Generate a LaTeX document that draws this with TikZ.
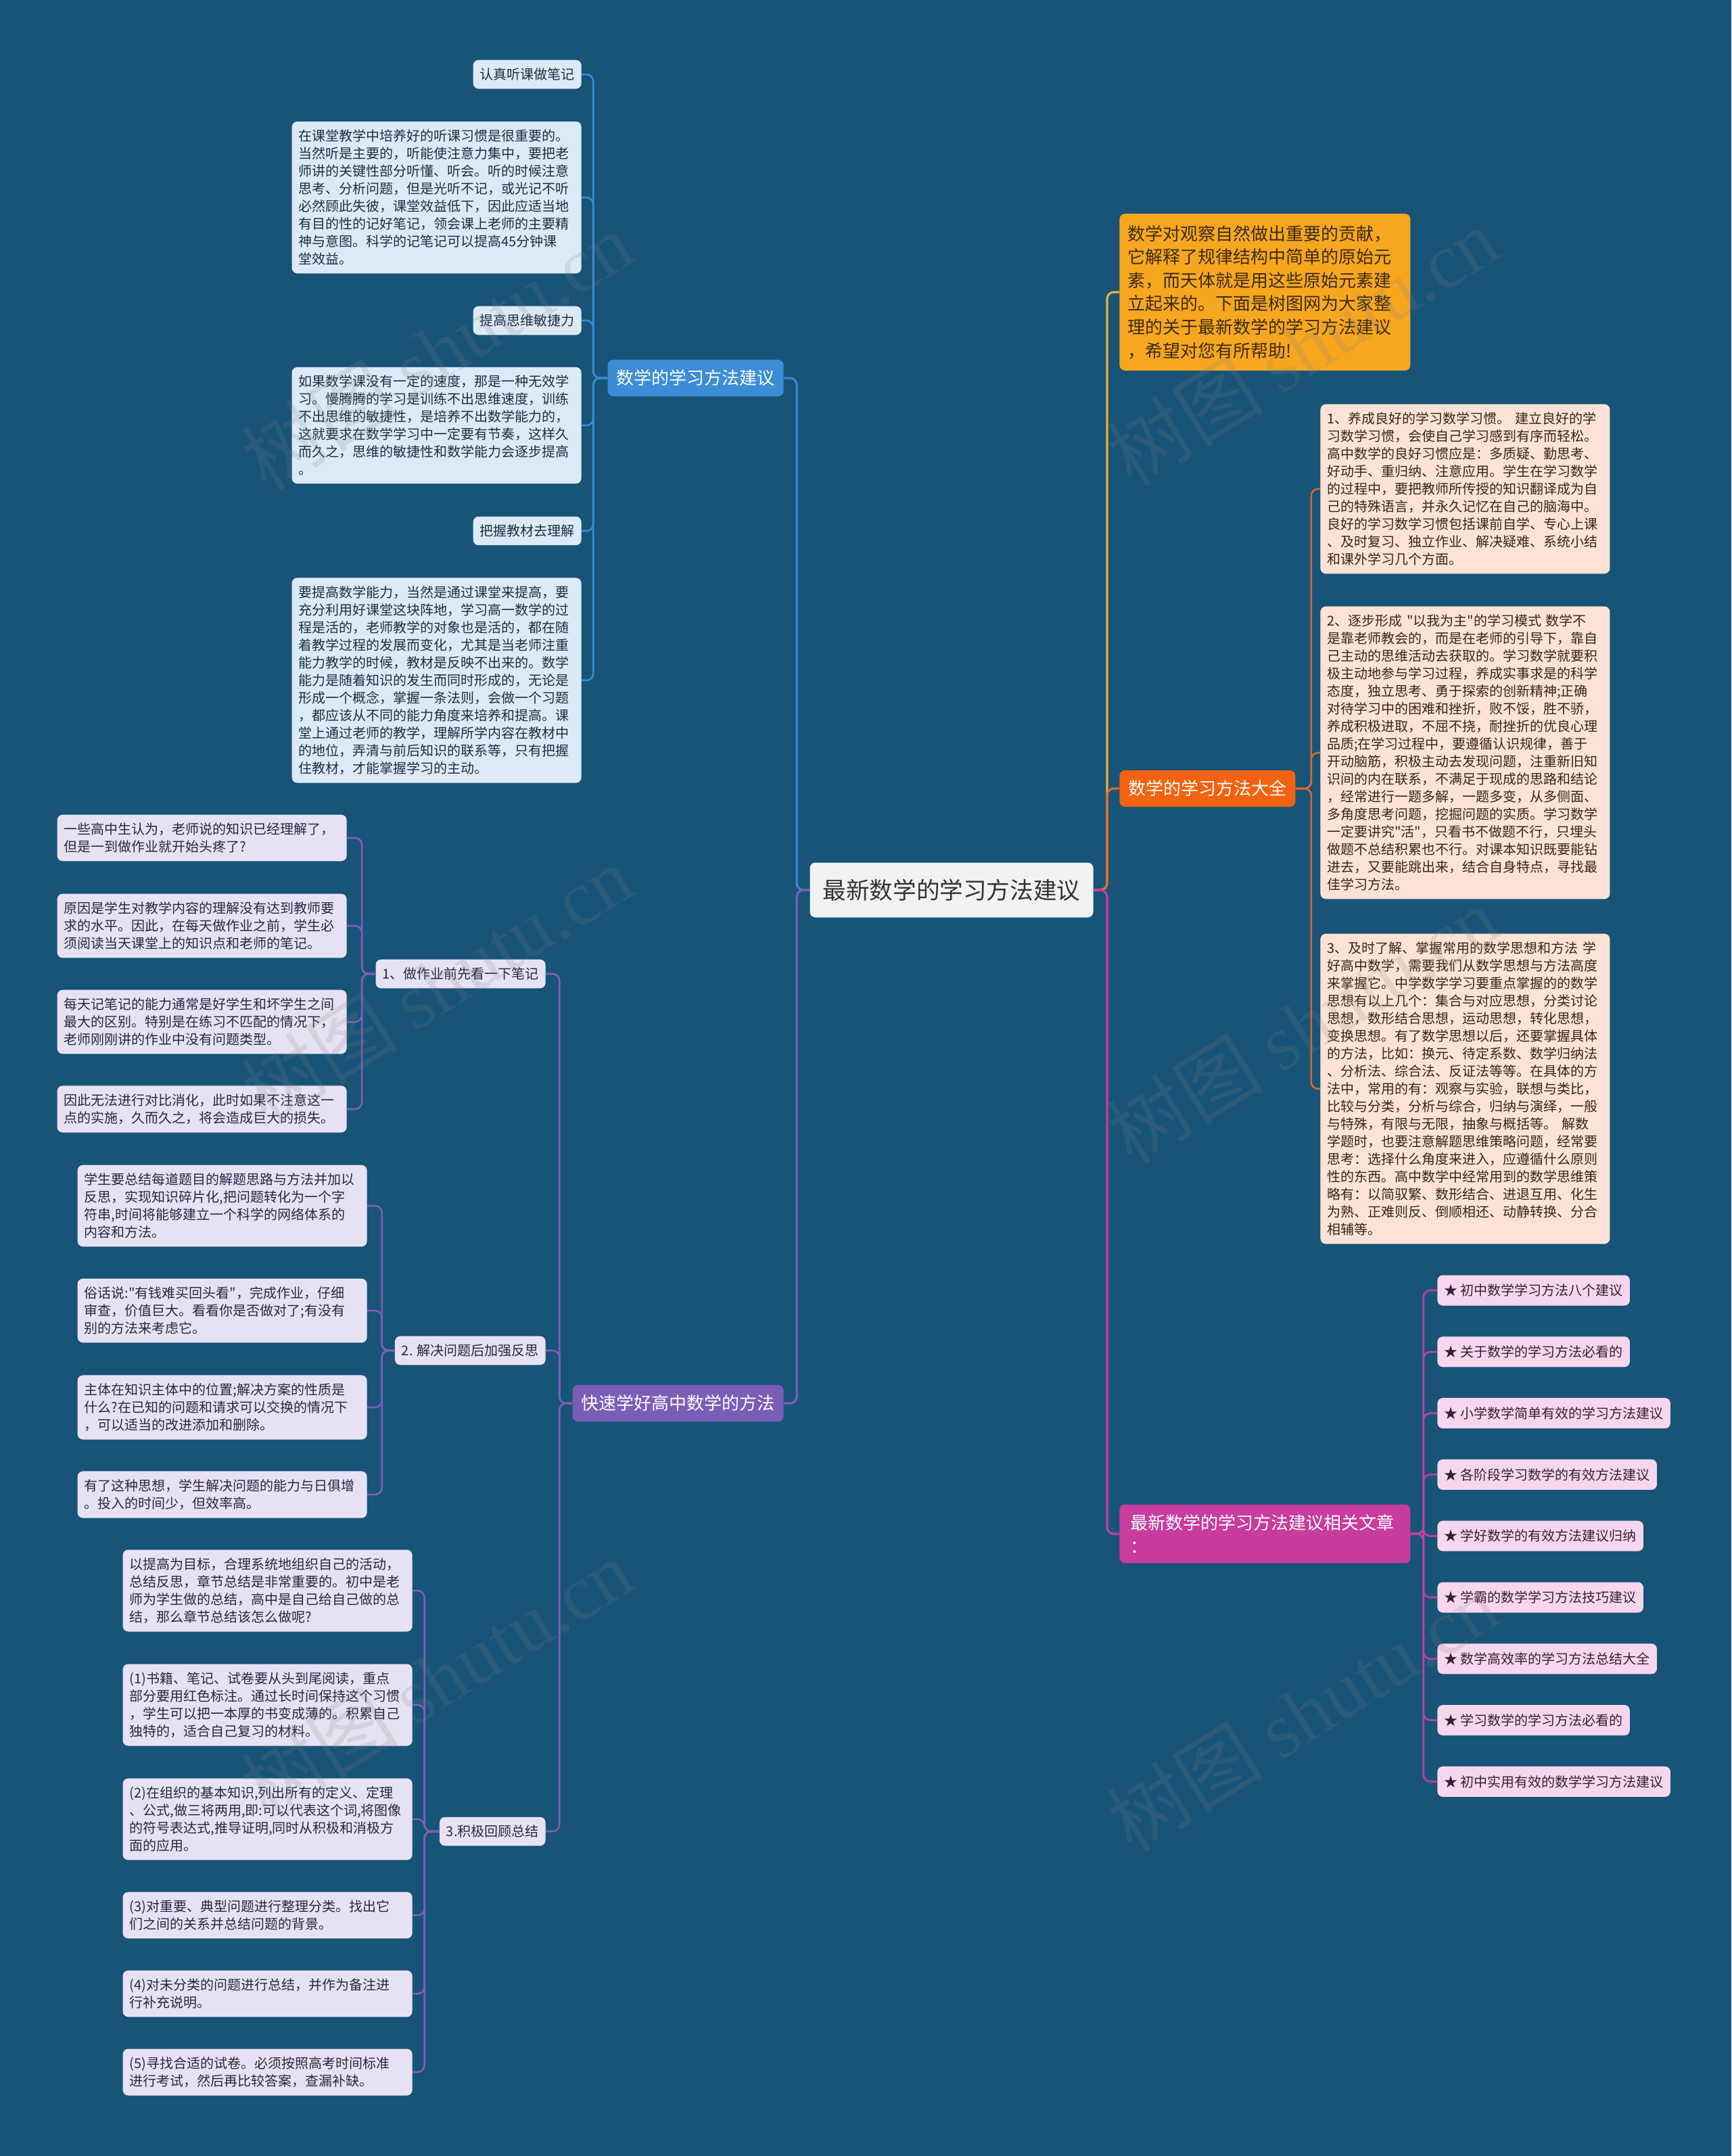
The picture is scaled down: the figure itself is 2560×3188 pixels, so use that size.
\documentclass[tikz,border=0pt]{standalone}
\usepackage{fontspec}
\setmainfont{Noto Sans CJK SC}[Ligatures=TeXOff]
\newfontfamily\wmserif{Liberation Serif}
\usepackage{tikz}
\usetikzlibrary{positioning}
\definecolor{mapbg}{RGB}{24,83,120}
\definecolor{rootfill}{HTML}{F2F2F2}
\definecolor{introfill}{HTML}{F6A71F}
\definecolor{introline}{HTML}{E6B33C}
\definecolor{introtext}{HTML}{3D2B0A}
\definecolor{quanfill}{HTML}{F4620F}
\definecolor{quanline}{HTML}{DB6A2E}
\definecolor{peachfill}{HTML}{FDE3D5}
\definecolor{peachtext}{HTML}{3A2418}
\definecolor{relfill}{HTML}{C83C9D}
\definecolor{relline}{HTML}{C2409C}
\definecolor{pinkfill}{HTML}{F7D7EE}
\definecolor{pinktext}{HTML}{3A1E33}
\definecolor{skillfill}{HTML}{3C8DD8}
\definecolor{skillline}{HTML}{3A8BD6}
\definecolor{bluefill}{HTML}{DCEAF7}
\definecolor{bluetext}{HTML}{1E2E40}
\definecolor{fastfill}{HTML}{7A5DB6}
\definecolor{fastline}{HTML}{7D5FB9}
\definecolor{lavfill}{HTML}{E7E2F3}
\definecolor{lavtext}{HTML}{2B2540}

\begin{document}
\begin{tikzpicture}[
    x=0.5pt, y=-0.5pt,
    box/.style={rounded corners=4pt, inner xsep=5pt, inner ysep=6pt, align=left},
    leaf/.style={box, font=\fontsize{10pt}{13pt}\selectfont},
    longleaf/.style={leaf, text width=204pt},
    topic/.style={box, font=\fontsize{13pt}{17.3pt}\selectfont, inner xsep=6.5pt, minimum height=27pt},
    bluebox/.style={fill=bluefill, text=bluetext},
    lavbox/.style={fill=lavfill, text=lavtext},
    peachbox/.style={fill=peachfill, text=peachtext},
    pinkbox/.style={fill=pinkfill, text=pinktext, minimum height=22.5pt},
    link/.style={line width=1.3pt, rounded corners=5pt},
    mainlink/.style={line width=1.6pt, rounded corners=5pt},
    wmark/.style={font=\fontsize{58pt}{58pt}\selectfont, text=gray, opacity=0.18, rotate=32}
]
\fill[mapbg] (0,0) rectangle (2560,3188);
\useasboundingbox (0,0) rectangle (2560,3188);

% centre
\node[box, fill=rootfill, text=black!80, font=\fontsize{17.3pt}{20pt}\selectfont,
      minimum width=209.5pt, minimum height=40.5pt] (root) at (1407,1316) {最新数学的学习方法建议};

% right side
\node[box, fill=introfill, text=introtext, font=\fontsize{13pt}{17.3pt}\selectfont,
      text width=203pt, inner xsep=6pt, inner ysep=8.5pt, anchor=west] (intro) at (1655,432)
 {数学对观察自然做出重要的贡献，\\它解释了规律结构中简单的原始元\\素，而天体就是用这些原始元素建\\立起来的。下面是树图网为大家整\\理的关于最新数学的学习方法建议\\，希望对您有所帮助!};
\node[topic, fill=quanfill, text=white, anchor=west] (quan) at (1655,1166) {数学的学习方法大全};
\node[topic, fill=relfill, text=white, text width=199pt, inner xsep=8pt, inner ysep=7.5pt, anchor=west] (rel) at (1655,2268)
 {最新数学的学习方法建议相关文章\\：};

\node[longleaf, peachbox, anchor=west] (habit) at (1952,723)
 {1、养成良好的学习数学习惯。~建立良好的学\\习数学习惯，会使自己学习感到有序而轻松。\\高中数学的良好习惯应是：多质疑、勤思考、\\好动手、重归纳、注意应用。学生在学习数学\\的过程中，要把教师所传授的知识翻译成为自\\己的特殊语言，并永久记忆在自己的脑海中。\\良好的学习数学习惯包括课前自学、专心上课\\、及时复习、独立作业、解决疑难、系统小结\\和课外学习几个方面。};
\node[longleaf, peachbox, anchor=west] (mode) at (1952,1113)
 {2、逐步形成~"以我为主"的学习模式~数学不\\是靠老师教会的，而是在老师的引导下，靠自\\己主动的思维活动去获取的。学习数学就要积\\极主动地参与学习过程，养成实事求是的科学\\态度，独立思考、勇于探索的创新精神;正确\\对待学习中的困难和挫折，败不馁，胜不骄，\\养成积极进取，不屈不挠，耐挫折的优良心理\\品质;在学习过程中，要遵循认识规律，善于\\开动脑筋，积极主动去发现问题，注重新旧知\\识间的内在联系，不满足于现成的思路和结论\\，经常进行一题多解，一题多变，从多侧面、\\多角度思考问题，挖掘问题的实质。学习数学\\一定要讲究"活"，只看书不做题不行，只埋头\\做题不总结积累也不行。对课本知识既要能钻\\进去，又要能跳出来，结合自身特点，寻找最\\佳学习方法。};
\node[longleaf, peachbox, anchor=west] (idea) at (1952,1610)
 {3、及时了解、掌握常用的数学思想和方法~学\\好高中数学，需要我们从数学思想与方法高度\\来掌握它。中学数学学习要重点掌握的的数学\\思想有以上几个：集合与对应思想，分类讨论\\思想，数形结合思想，运动思想，转化思想，\\变换思想。有了数学思想以后，还要掌握具体\\的方法，比如：换元、待定系数、数学归纳法\\、分析法、综合法、反证法等等。在具体的方\\法中，常用的有：观察与实验，联想与类比，\\比较与分类，分析与综合，归纳与演绎，一般\\与特殊，有限与无限，抽象与概括等。~解数\\学题时，也要注意解题思维策略问题，经常要\\思考：选择什么角度来进入，应遵循什么原则\\性的东西。高中数学中经常用到的数学思维策\\略有：以简驭繁、数形结合、进退互用、化生\\为熟、正难则反、倒顺相还、动静转换、分合\\相辅等。};

\node[leaf, pinkbox, anchor=west] (art1) at (2125,1908) {★ 初中数学学习方法八个建议};
\node[leaf, pinkbox, below=22.5pt of art1.south west, anchor=north west] (art2) {★ 关于数学的学习方法必看的};
\node[leaf, pinkbox, below=22.5pt of art2.south west, anchor=north west] (art3) {★ 小学数学简单有效的学习方法建议};
\node[leaf, pinkbox, below=22.5pt of art3.south west, anchor=north west] (art4) {★ 各阶段学习数学的有效方法建议};
\node[leaf, pinkbox, below=22.5pt of art4.south west, anchor=north west] (art5) {★ 学好数学的有效方法建议归纳};
\node[leaf, pinkbox, below=22.5pt of art5.south west, anchor=north west] (art6) {★ 学霸的数学学习方法技巧建议};
\node[leaf, pinkbox, below=22.5pt of art6.south west, anchor=north west] (art7) {★ 数学高效率的学习方法总结大全};
\node[leaf, pinkbox, below=22.5pt of art7.south west, anchor=north west] (art8) {★ 学习数学的学习方法必看的};
\node[leaf, pinkbox, below=22.5pt of art8.south west, anchor=north west] (art9) {★ 初中实用有效的数学学习方法建议};

% left side
\node[topic, fill=skillfill, text=white, anchor=east] (skill) at (1159,559) {数学的学习方法建议};
\node[topic, fill=fastfill, text=white, anchor=east] (fast) at (1159,2075) {快速学好高中数学的方法};

\node[leaf, bluebox, anchor=east] (notes) at (860,110) {认真听课做笔记};
\node[longleaf, bluebox, anchor=east] (notestxt) at (860,292)
 {在课堂教学中培养好的听课习惯是很重要的。\\当然听是主要的，听能使注意力集中，要把老\\师讲的关键性部分听懂、听会。听的时候注意\\思考、分析问题，但是光听不记，或光记不听\\必然顾此失彼，课堂效益低下，因此应适当地\\有目的性的记好笔记，领会课上老师的主要精\\神与意图。科学的记笔记可以提高45分钟课\\堂效益。};
\node[leaf, bluebox, anchor=east] (speed) at (860,474) {提高思维敏捷力};
\node[longleaf, bluebox, anchor=east] (speedtxt) at (860,629)
 {如果数学课没有一定的速度，那是一种无效学\\习。慢腾腾的学习是训练不出思维速度，训练\\不出思维的敏捷性，是培养不出数学能力的，\\这就要求在数学学习中一定要有节奏，这样久\\而久之，思维的敏捷性和数学能力会逐步提高\\。};
\node[leaf, bluebox, anchor=east] (book) at (860,785) {把握教材去理解};
\node[longleaf, bluebox, anchor=east] (booktxt) at (860,1006)
 {要提高数学能力，当然是通过课堂来提高，要\\充分利用好课堂这块阵地，学习高一数学的过\\程是活的，老师教学的对象也是活的，都在随\\着教学过程的发展而变化，尤其是当老师注重\\能力教学的时候，教材是反映不出来的。数学\\能力是随着知识的发生而同时形成的，无论是\\形成一个概念，掌握一条法则，会做一个习题\\，都应该从不同的能力角度来培养和提高。课\\堂上通过老师的教学，理解所学内容在教材中\\的地位，弄清与前后知识的联系等，只有把握\\住教材，才能掌握学习的主动。};

\node[leaf, lavbox, anchor=east] (hw) at (807,1440) {1、做作业前先看一下笔记};
\node[leaf, lavbox, anchor=east] (think) at (807,1997) {2. 解决问题后加强反思};
\node[leaf, lavbox, anchor=east] (review) at (807,2708) {3.积极回顾总结};

\node[longleaf, lavbox, anchor=east] (hw1) at (513,1239)
 {一些高中生认为，老师说的知识已经理解了，\\但是一到做作业就开始头疼了?};
\node[longleaf, lavbox, anchor=east] (hw2) at (513,1369)
 {原因是学生对教学内容的理解没有达到教师要\\求的水平。因此，在每天做作业之前，学生必\\须阅读当天课堂上的知识点和老师的笔记。};
\node[longleaf, lavbox, anchor=east] (hw3) at (513,1511)
 {每天记笔记的能力通常是好学生和坏学生之间\\最大的区别。特别是在练习不匹配的情况下，\\老师刚刚讲的作业中没有问题类型。};
\node[longleaf, lavbox, anchor=east] (hw4) at (513,1640)
 {因此无法进行对比消化，此时如果不注意这一\\点的实施，久而久之，将会造成巨大的损失。};

\node[longleaf, lavbox, anchor=east] (think1) at (543,1783)
 {学生要总结每道题目的解题思路与方法并加以\\反思，实现知识碎片化,把问题转化为一个字\\符串,时间将能够建立一个科学的网络体系的\\内容和方法。};
\node[longleaf, lavbox, anchor=east] (think2) at (543,1938)
 {俗话说:"有钱难买回头看"，完成作业，仔细\\审查，价值巨大。看看你是否做对了;有没有\\别的方法来考虑它。};
\node[longleaf, lavbox, anchor=east] (think3) at (543,2081)
 {主体在知识主体中的位置;解决方案的性质是\\什么?在已知的问题和请求可以交换的情况下\\，可以适当的改进添加和删除。};
\node[longleaf, lavbox, anchor=east] (think4) at (543,2210)
 {有了这种思想，学生解决问题的能力与日俱增\\。投入的时间少，但效率高。};

\node[longleaf, lavbox, anchor=east] (rev1) at (610,2352)
 {以提高为目标，合理系统地组织自己的活动，\\总结反思，章节总结是非常重要的。初中是老\\师为学生做的总结，高中是自己给自己做的总\\结，那么章节总结该怎么做呢?};
\node[longleaf, lavbox, anchor=east] (rev2) at (610,2521)
 {(1)书籍、笔记、试卷要从头到尾阅读，重点\\部分要用红色标注。通过长时间保持这个习惯\\，学生可以把一本厚的书变成薄的。积累自己\\独特的，适合自己复习的材料。};
\node[longleaf, lavbox, anchor=east] (rev3) at (610,2690)
 {(2)在组织的基本知识,列出所有的定义、定理\\、公式,做三将两用,即:可以代表这个词,将图像\\的符号表达式,推导证明,同时从积极和消极方\\面的应用。};
\node[longleaf, lavbox, anchor=east] (rev4) at (610,2832)
 {(3)对重要、典型问题进行整理分类。找出它\\们之间的关系并总结问题的背景。};
\node[longleaf, lavbox, anchor=east] (rev5) at (610,2948)
 {(4)对未分类的问题进行总结，并作为备注进\\行补充说明。};
\node[longleaf, lavbox, anchor=east] (rev6) at (610,3064)
 {(5)寻找合适的试卷。必须按照高考时间标准\\进行考试，然后再比较答案，查漏补缺。};

% connectors
\draw[mainlink, introline] (root.east) -- ++(20,0) |- (intro.west);
\draw[mainlink, quanline] (root.east) -- ++(20,0) |- (quan.west);
\draw[mainlink, relline] (root.east) -- ++(20,0) |- (rel.west);
\draw[mainlink, skillline] (root.west) -- ++(-19,0) |- (skill.east);
\draw[mainlink, fastline] (root.west) -- ++(-19,0) |- (fast.east);

\draw[link, quanline] (quan.east) -- ++(23,0) |- (habit.west);
\draw[link, quanline] (quan.east) -- ++(23,0) |- (mode.west);
\draw[link, quanline] (quan.east) -- ++(23,0) |- (idea.west);

\draw[link, relline] (rel.east) -- ++(19,0) |- (art1.west);
\draw[link, relline] (rel.east) -- ++(19,0) |- (art2.west);
\draw[link, relline] (rel.east) -- ++(19,0) |- (art3.west);
\draw[link, relline] (rel.east) -- ++(19,0) |- (art4.west);
\draw[link, relline] (rel.east) -- ++(19,0) |- (art5.west);
\draw[link, relline] (rel.east) -- ++(19,0) |- (art6.west);
\draw[link, relline] (rel.east) -- ++(19,0) |- (art7.west);
\draw[link, relline] (rel.east) -- ++(19,0) |- (art8.west);
\draw[link, relline] (rel.east) -- ++(19,0) |- (art9.west);

\draw[link, skillline] (skill.west) -- ++(-21,0) |- (notes.east);
\draw[link, skillline] (skill.west) -- ++(-21,0) |- (notestxt.east);
\draw[link, skillline] (skill.west) -- ++(-21,0) |- (speed.east);
\draw[link, skillline] (skill.west) -- ++(-21,0) |- (speedtxt.east);
\draw[link, skillline] (skill.west) -- ++(-21,0) |- (book.east);
\draw[link, skillline] (skill.west) -- ++(-21,0) |- (booktxt.east);

\draw[link, fastline] (fast.west) -- ++(-19,0) |- (hw.east);
\draw[link, fastline] (fast.west) -- ++(-19,0) |- (think.east);
\draw[link, fastline] (fast.west) -- ++(-19,0) |- (review.east);

\draw[link, fastline] (hw.west) -- ++(-20,0) |- (hw1.east);
\draw[link, fastline] (hw.west) -- ++(-20,0) |- (hw2.east);
\draw[link, fastline] (hw.west) -- ++(-20,0) |- (hw3.east);
\draw[link, fastline] (hw.west) -- ++(-20,0) |- (hw4.east);

\draw[link, fastline] (think.west) -- ++(-19,0) |- (think1.east);
\draw[link, fastline] (think.west) -- ++(-19,0) |- (think2.east);
\draw[link, fastline] (think.west) -- ++(-19,0) |- (think3.east);
\draw[link, fastline] (think.west) -- ++(-19,0) |- (think4.east);

\draw[link, fastline] (review.west) -- ++(-22,0) |- (rev1.east);
\draw[link, fastline] (review.west) -- ++(-22,0) |- (rev2.east);
\draw[link, fastline] (review.west) -- ++(-22,0) |- (rev3.east);
\draw[link, fastline] (review.west) -- ++(-22,0) |- (rev4.east);
\draw[link, fastline] (review.west) -- ++(-22,0) |- (rev5.east);
\draw[link, fastline] (review.west) -- ++(-22,0) |- (rev6.east);

% watermark
\node[wmark] (wm1) at (646,518) {树图 {\wmserif shutu.cn}};
\node[wmark] (wm2) at (1926,512) {树图 {\wmserif shutu.cn}};
\node[wmark] (wm3) at (646,1454) {树图 {\wmserif shutu.cn}};
\node[wmark] (wm4) at (1926,1515) {树图 {\wmserif shutu.cn}};
\node[wmark] (wm5) at (646,2481) {树图 {\wmserif shutu.cn}};
\node[wmark] (wm6) at (1926,2532) {树图 {\wmserif shutu.cn}};
\end{tikzpicture}
\end{document}
